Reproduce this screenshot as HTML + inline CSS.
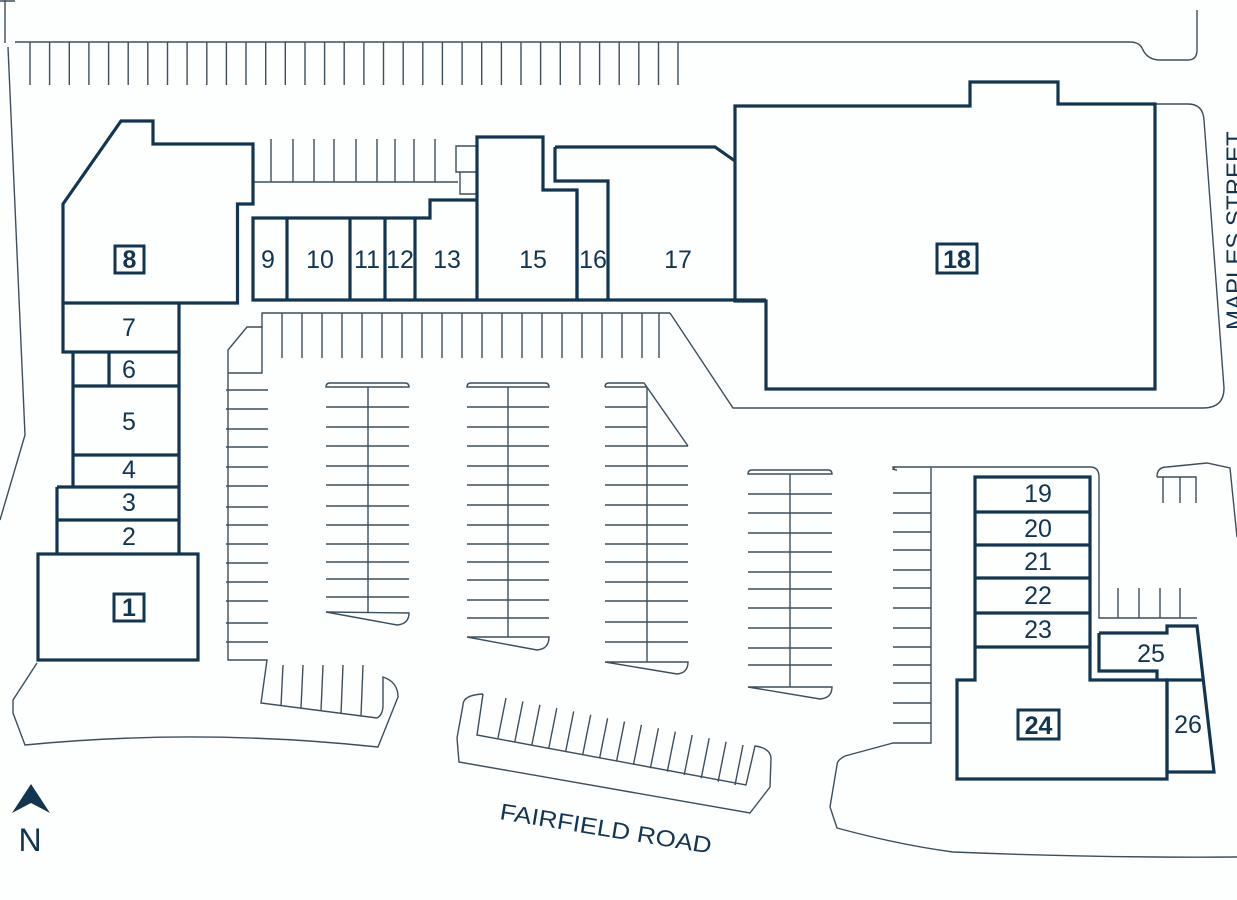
<!DOCTYPE html>
<html><head><meta charset="utf-8"><style>
html,body{margin:0;padding:0;background:#fff;}
svg{display:block;}
.t{fill:none;stroke:#3d4f5c;stroke-width:1.4;}
.b{fill:none;stroke:#14354f;stroke-width:3.2;stroke-linejoin:miter;}
.lb{font-family:"Liberation Sans",sans-serif;font-size:25px;fill:#14354f;text-anchor:middle;}
.bx{font-family:"Liberation Sans",sans-serif;font-size:25px;font-weight:bold;fill:#14354f;text-anchor:middle;}
</style></head><body>
<svg width="1237" height="900" viewBox="0 0 1237 900" xmlns="http://www.w3.org/2000/svg">
<rect width="1237" height="900" fill="#fdfefe"/>
<path class="t" d="M5 0V43M0 1H15M15 42H1130Q1140 42 1143 50Q1148 60 1160 60H1188Q1197 60 1197 50V10"/>
<path class="t" d="M8 47L25 435L0 520"/>
<path class="t" d="M30 42V85M49.6 42V85M69.3 42V85M88.9 42V85M108.6 42V85M128.2 42V85M147.8 42V85M167.5 42V85M187.1 42V85M206.8 42V85M226.4 42V85M246 42V85M265.7 42V85M285.3 42V85M305 42V85M324.6 42V85M344.2 42V85M363.9 42V85M383.5 42V85M403.2 42V85M422.8 42V85M442.4 42V85M462.1 42V85M481.7 42V85M501.4 42V85M521 42V85M540.6 42V85M560.3 42V85M579.9 42V85M599.6 42V85M619.2 42V85M638.8 42V85M658.5 42V85M678 42V85"/>
<path class="t" d="M253 182H458M271 139V182M293 139V182M314 139V182M334 139V182M356 139V182M377 139V182M395 139V182M414 139V182M435 139V182"/>
<path class="t" d="M456 146H477V194H460V172H456Z M460 172H477"/>
<path class="t" d="M1155 104H1188Q1203 104 1204 120L1224 388Q1224 408 1203 408H733L670 313"/>
<path class="t" d="M670 313H262V327H247L228 350V660H267L261 703L377 718Q383 715 383 705V677Q398 682 398 697L378 747Q200 728 25 745L13 713L13 700L37 663"/>
<path class="t" d="M282 313V358M302 313V358M322 313V358M342 313V358M362 313V358M382 313V358M402 313V358M422 313V358M442 313V358M462 313V358M482 313V358M502 313V358M522 313V358M542 313V358M562 313V358M582 313V358M602 313V358M622 313V358M642 313V358M659 313V358"/>
<path class="t" d="M262 327V373H228"/>
<path class="t" d="M226 390H268M226 409H268M226 429H268M226 447H268M226 467H268M226 486H268M226 507H268M226 525H268M226 544H268M226 563H268M226 582H268M226 601H268M226 623H268M226 642H268"/>
<path class="t" d="M283 665L281 706M303 665L301 708M323 665L321 711M343 665L341 714M363 665L361 716"/>
<path class="t" d="M330 383H405Q409 383 409 387H326Q326 383 330 383Z M368 387V612 M326 407H409M326 427H409M326 446H409M326 466H409M326 485H409M326 506H409M326 525H409M326 544H409M326 562H409M326 579H409M326 597H409 M326 612L397 625Q409 624 409 613Z"/>
<path class="t" d="M471 383H545Q549 383 549 387H467Q467 383 471 383Z M508 387V637 M467 407H549M467 427H549M467 446H549M467 466H549M467 485H549M467 505H549M467 525H549M467 544H549M467 562H549M467 580H549M467 600H549M467 618H549 M467 637L537 650Q549 649 549 637Z"/>
<path class="t" d="M609 383H644L688 446 M605 387H647 M647 387V662 M605 407H647M605 427H647M605 446H688M605 466H688M605 485H688M605 505H688M605 525H688M605 544H688M605 562H688M605 582H688M605 601H688M605 622H688M605 642H688 M605 662L677 674Q688 673 688 662Z M609 383Q605 383 605 387"/>
<path class="t" d="M752 470H828Q832 470 832 474H748Q748 470 752 470Z M790 474V687 M748 494H832M748 513H832M748 533H832M748 552H832M748 572H832M748 589H832M748 608H832M748 628H832M748 648H832M748 665H832 M748 687L820 699Q832 698 832 687Z"/>
<path class="t" d="M483 694Q463 695 463 705L457 738L459 762L750 813L770 787L771 758Q770 748 755 746L746 785L477 735L483 694"/>
<path class="t" d="M498 738l8 -40M514.9 741.4l8 -40M531.9 744.7l8 -40M548.8 748.1l8 -40M565.7 751.4l8 -40M582.7 754.8l8 -40M599.6 758.2l8 -40M616.5 761.5l8 -40M633.4 764.9l8 -40M650.4 768.2l8 -40M667.3 771.6l8 -40M684.2 775l8 -40M701.2 778.3l8 -40M718.1 781.7l8 -40M735 785l8 -40"/>
<text x="0" y="0" transform="translate(499 819) rotate(9.3)" font-family="Liberation Sans, sans-serif" font-size="23" fill="#14354f" textLength="214" lengthAdjust="spacingAndGlyphs">FAIRFIELD ROAD</text>
<path class="t" d="M931 467H893Q893 470 897 470 M897 467Q893 467 893 470 M931 467V743L893 743L845 756Q837 760 837 765L830 807L837 828Q900 845 953 852Q1100 858 1237 857"/>
<path class="t" d="M931 467H1090Q1099 467 1099 477V618H1197 M1118 588V618M1139 588V618M1160 588V618M1180 588V618"/>
<path class="t" d="M893 493H931M893 513H931M893 532H931M893 550H931M893 570H931M893 588H931M893 608H931M893 628H931M893 647H931M893 665H931M893 683H931M893 703H931M893 723H931"/>
<path class="t" d="M1157 477Q1157 467 1167 467L1207 463L1230 468L1237 537 M1157 477H1196V503 M1163 477V503M1180 477V503"/>
<path class="b" d="M63 204L121 121H153V144H253V204H237.5V303H63Z"/>
<path class="b" d="M63 303V352H73V487M179 303V554M63 352H73 M109 352V386M73 352H109 M109 352H179 M73 386H179M73 455H179M57 487H179M57 487V554M57 520H179"/>
<rect class="b" x="38" y="554" width="160" height="106"/>
<path class="b" d="M253 218H430V200H477V137H543V190H577V300H253Z M287 218V300M350 218V300M385 218V300M415 218V300M477 200V300"/>
<path class="b" d="M555 147V181H608V300M577 190V300 M555 147H715L735 161 M577 300H766"/>
<path class="b" d="M735 106H970V82H1058V104H1155V389H766V301H735Z"/>
<path class="b" d="M975 477H1090V680H1167V779H957V680H975Z M975 512H1090M975 545H1090M975 578H1090M975 613H1090M975 647H1090"/>
<path class="b" d="M1099 633H1167V626H1197L1214 772H1167V680H1202 M1099 633V671H1157V680"/>
<rect class="b" x="115" y="246" width="29" height="27" style="stroke-width:3"/>
<text class="bx" x="129.5" y="268">8</text>
<rect class="b" x="114" y="594" width="30" height="27" style="stroke-width:3"/>
<text class="bx" x="129" y="616">1</text>
<rect class="b" x="937" y="244" width="40" height="29" style="stroke-width:3"/>
<text class="bx" x="957" y="268">18</text>
<rect class="b" x="1018" y="710" width="41" height="29" style="stroke-width:3"/>
<text class="bx" x="1038.5" y="734">24</text>
<text class="lb" x="129" y="336">7</text>
<text class="lb" x="129" y="378">6</text>
<text class="lb" x="129" y="430">5</text>
<text class="lb" x="129" y="478">4</text>
<text class="lb" x="129" y="511">3</text>
<text class="lb" x="129" y="545">2</text>
<text class="lb" x="268" y="268">9</text>
<text class="lb" x="320" y="268">10</text>
<text class="lb" x="367" y="268">11</text>
<text class="lb" x="400" y="268">12</text>
<text class="lb" x="447" y="268">13</text>
<text class="lb" x="533" y="268">15</text>
<text class="lb" x="593" y="268">16</text>
<text class="lb" x="678" y="268">17</text>
<text class="lb" x="1038" y="502">19</text>
<text class="lb" x="1038" y="537">20</text>
<text class="lb" x="1038" y="570">21</text>
<text class="lb" x="1038" y="604">22</text>
<text class="lb" x="1038" y="638">23</text>
<text class="lb" x="1151" y="662">25</text>
<text class="lb" x="1188" y="733">26</text>
<text x="0" y="0" transform="translate(1243 330) rotate(-90)" font-family="Liberation Sans, sans-serif" font-size="24" fill="#14354f">MAPLES STREET</text>
<path d="M12 813L31 784L50 813L31 803Z" fill="#14354f"/>
<text x="30" y="851" font-family="Liberation Sans, sans-serif" font-size="32" fill="#14354f" text-anchor="middle">N</text>
</svg>
</body></html>
